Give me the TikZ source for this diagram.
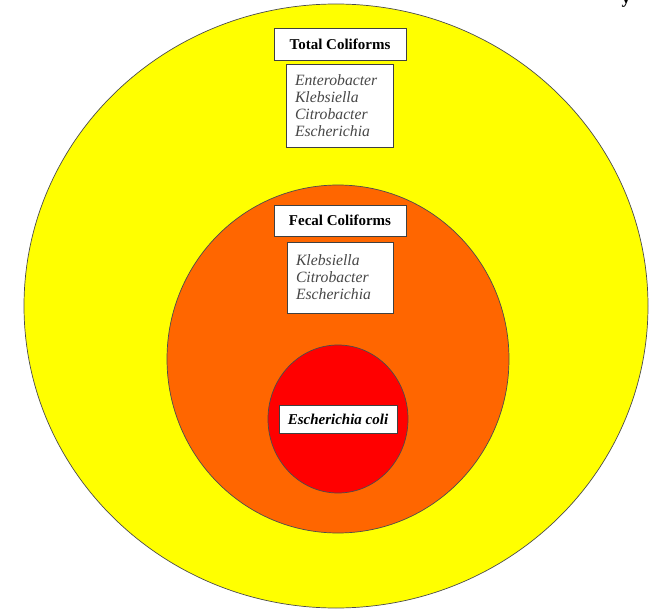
\documentclass[tikz,border=0pt]{standalone}
\usepackage{fontspec}
\setmainfont{Liberation Serif}
\begin{document}
\begin{tikzpicture}[x=1pt,y=-1pt,
  ring/.style={draw=black!70,line width=0.7pt},
  labelbox/.style={draw=black!75,fill=white,line width=0.7pt,inner sep=0pt,
    font=\fontsize{15}{17}\selectfont\bfseries},
  listbox/.style={draw=black!75,fill=white,line width=0.7pt,inner xsep=9pt,inner ysep=0pt,
    align=left,text=black!72,font=\fontsize{15.7}{17}\selectfont\itshape}]
\definecolor{totalyellow}{RGB}{255,255,0}
\definecolor{fecalorange}{RGB}{255,102,0}
\definecolor{colired}{RGB}{255,0,0}
\useasboundingbox (0,0) rectangle (649,610);
% nested groups
\filldraw[ring,fill=totalyellow] (336,306) ellipse [x radius=312, y radius=302];
\filldraw[ring,fill=fecalorange] (338,359) ellipse [x radius=171, y radius=174];
\filldraw[ring,fill=colired] (338,419) ellipse [x radius=70, y radius=74];
% total coliforms
\node[labelbox,minimum width=132,minimum height=32] (total) at (340,44) {Total Coliforms};
\node[listbox,text width=89,minimum height=83] (tlist) at (339.5,105.5)
  {Enterobacter\\Klebsiella\\Citrobacter\\Escherichia};
% fecal coliforms
\node[labelbox,minimum width=132,minimum height=31] (fecal) at (340,220.5) {Fecal Coliforms};
\node[listbox,text width=88,minimum height=71] (flist) at (340,277.5)
  {Klebsiella\\Citrobacter\\Escherichia};
% e. coli
\node[labelbox,minimum width=118,minimum height=28,font=\fontsize{15}{17}\selectfont\bfseries\itshape]
  (ecoli) at (338,419) {Escherichia coli};
% descender of the cut-off heading
\node[anchor=base,font=\fontsize{18}{20}\selectfont\bfseries] (head) at (626,4) {y};
\end{tikzpicture}
\end{document}
